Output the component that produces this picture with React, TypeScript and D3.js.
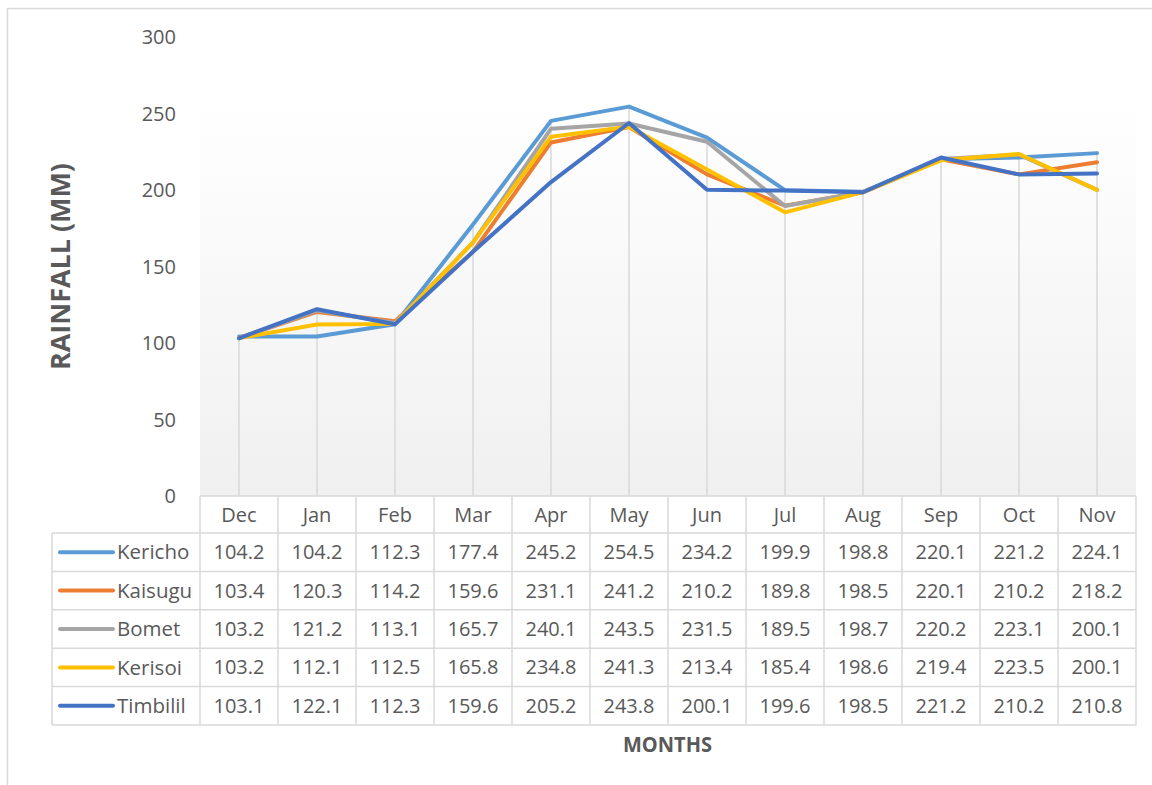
import * as d3 from "d3";

const months = ["Dec", "Jan", "Feb", "Mar", "Apr", "May", "Jun", "Jul", "Aug", "Sep", "Oct", "Nov"];
const stations = ["Kericho", "Kaisugu", "Bomet", "Kerisoi", "Timbilil"];
const colors = ["#5B9BD5", "#ED7D31", "#A5A5A5", "#FFC000", "#4472C4"];

const kericho = [104.2, 104.2, 112.3, 177.4, 245.2, 254.5, 234.2, 199.9, 198.8, 220.1, 221.2, 224.1];
const kaisugu = [103.4, 120.3, 114.2, 159.6, 231.1, 241.2, 210.2, 189.8, 198.5, 220.1, 210.2, 218.2];
const bomet = [103.2, 121.2, 113.1, 165.7, 240.1, 243.5, 231.5, 189.5, 198.7, 220.2, 223.1, 200.1];
const kerisoi = [103.2, 112.1, 112.5, 165.8, 234.8, 241.3, 213.4, 185.4, 198.6, 219.4, 223.5, 200.1];
const timbilil = [103.1, 122.1, 112.3, 159.6, 205.2, 243.8, 200.1, 199.6, 198.5, 221.2, 210.2, 210.8];

const yTicks = [0, 50, 100, 150, 200, 250, 300];

const series = [kericho, kaisugu, bomet, kerisoi, timbilil];

const W = 1152, H = 785;
const FONT = "'Open Sans', sans-serif";
const TXT = "#595959";
const GRID = "#d9d9d9";

export default function App() {
  // layout
  const plotLeft = 200, plotRight = 1136;
  const x = d3.scaleBand<string>().domain(months).range([plotLeft, plotRight]).padding(0);
  const y = d3.scaleLinear().domain([0, 300]).range([496, 37]);

  const rowH = 38.4;
  const headTop = y(0);
  const headBottom = 533;
  const legendLeft = 52;

  const line = d3
    .line<number>()
    .x((_, i) => (x(months[i]) as number) + x.bandwidth() / 2)
    .y((d) => y(d));

  const maxPerMonth = months.map((_, i) => d3.max(series, (s) => s[i]) as number);

  return (
    <svg width={W} height={H} style={{ position: "absolute", left: 0, top: 0 }} fontFamily={FONT}>
      <defs>
        <linearGradient id="plotbg" x1="0" y1="0" x2="0" y2="1">
          <stop offset="0" stopColor="#ffffff" />
          <stop offset="1" stopColor="#f0f0f0" />
        </linearGradient>
      </defs>
      <rect x={0} y={0} width={W} height={H} fill="#fff" />
      {/* chart border */}
      <rect x={7.5} y={8.5} width={W + 10} height={H + 10} fill="none" stroke={GRID} strokeWidth={1.5} />

      {/* plot area */}
      <rect x={plotLeft} y={97} width={plotRight - plotLeft} height={headTop - 97} fill="url(#plotbg)" />

      {/* drop lines */}
      {months.map((m, i) => (
        <line
          key={m}
          x1={(x(m) as number) + x.bandwidth() / 2}
          x2={(x(m) as number) + x.bandwidth() / 2}
          y1={y(maxPerMonth[i])}
          y2={headTop}
          stroke={GRID}
          strokeWidth={1.5}
        />
      ))}

      {/* y ticks */}
      {yTicks.map((t) => (
        <text key={t} x={176} y={y(t)} dy="0.35em" textAnchor="end" fontSize={20} fill={TXT}>
          {t}
        </text>
      ))}

      {/* series lines */}
      {series.map((s, k) => (
        <path
          key={stations[k]}
          d={line(s) || ""}
          fill="none"
          stroke={colors[k]}
          strokeWidth={4}
          strokeLinejoin="round"
          strokeLinecap="round"
        />
      ))}

      {/* data table */}
      <g>
        <rect x={plotLeft} y={headTop} width={plotRight - plotLeft} height={headBottom - headTop} fill="#fff" />
        <rect x={legendLeft} y={headBottom} width={plotRight - legendLeft} height={rowH * 5} fill="#fff" />
        {months.map((m) => (
          <text
            key={m}
            x={(x(m) as number) + x.bandwidth() / 2}
            y={(headTop + headBottom) / 2}
            dy="0.35em"
            textAnchor="middle"
            fontSize={20}
            fill={TXT}
          >
            {m}
          </text>
        ))}
        {series.map((s, k) => {
          const ry = headBottom + k * rowH;
          return (
            <g key={stations[k]}>
              <line x1={60} x2={113} y1={ry + rowH / 2} y2={ry + rowH / 2} stroke={colors[k]} strokeWidth={4} strokeLinecap="round" />
              <text x={117} y={ry + rowH / 2} dy="0.35em" fontSize={20.5} fill={TXT}>
                {stations[k]}
              </text>
              {s.map((v, i) => (
                <text
                  key={i}
                  x={(x(months[i]) as number) + x.bandwidth() / 2}
                  y={ry + rowH / 2}
                  dy="0.35em"
                  textAnchor="middle"
                  fontSize={20}
                  fill={TXT}
                >
                  {v.toFixed(1)}
                </text>
              ))}
            </g>
          );
        })}
        {/* grid */}
        <g stroke={GRID} strokeWidth={1.5} fill="none">
          <line x1={plotLeft} x2={plotRight} y1={headTop} y2={headTop} />
          {d3.range(6).map((r) => (
            <line key={"h" + r} x1={legendLeft} x2={plotRight} y1={headBottom + r * rowH} y2={headBottom + r * rowH} />
          ))}
          <line x1={legendLeft} x2={legendLeft} y1={headBottom} y2={headBottom + 5 * rowH} />
          {months.map((m) => (
            <line key={"v" + m} x1={x(m) as number} x2={x(m) as number} y1={headTop} y2={headBottom + 5 * rowH} />
          ))}
          <line x1={plotRight} x2={plotRight} y1={headTop} y2={headBottom + 5 * rowH} />
        </g>
      </g>

      {/* axis titles */}
      <text
        transform={`translate(70,266.5) rotate(-90)`}
        textAnchor="middle"
        fontSize={27}
        fontWeight="bold"
        fill={TXT}
        textLength={207}
        lengthAdjust="spacingAndGlyphs"
      >
        RAINFALL (MM)
      </text>
      <text
        x={667.5}
        y={752}
        textAnchor="middle"
        fontSize={21}
        fontWeight="bold"
        fill={TXT}
        textLength={89}
        lengthAdjust="spacingAndGlyphs"
      >
        MONTHS
      </text>
    </svg>
  );
}
